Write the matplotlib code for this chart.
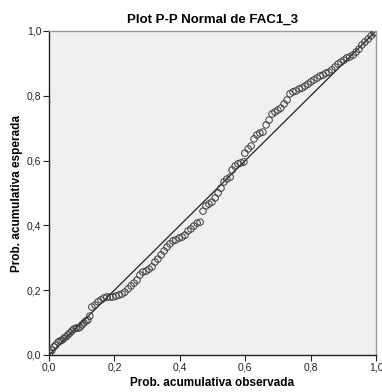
import numpy as np
import matplotlib
matplotlib.use('Agg')
import matplotlib.pyplot as plt
from matplotlib.ticker import FuncFormatter

plt.rcParams['font.family'] = ['Liberation Sans', 'DejaVu Sans']

# observed cumulative probability (x) and expected cumulative probability (y)
obs_prob = [0.003, 0.009, 0.015, 0.021, 0.028, 0.034, 0.040, 0.046, 0.052, 0.058,
            0.064, 0.070, 0.076, 0.083, 0.089, 0.095, 0.101, 0.107, 0.113, 0.119,
            0.125, 0.131, 0.141, 0.150, 0.159, 0.168, 0.177, 0.187, 0.196, 0.205,
            0.214, 0.223, 0.232, 0.242, 0.251, 0.260, 0.269, 0.278, 0.287, 0.297,
            0.306, 0.315, 0.324, 0.333, 0.343, 0.352, 0.361, 0.370, 0.379, 0.388,
            0.398, 0.407, 0.416, 0.425, 0.434, 0.443, 0.453, 0.462, 0.471, 0.480,
            0.489, 0.498, 0.508, 0.517, 0.526, 0.535, 0.544, 0.554, 0.560, 0.569,
            0.578, 0.587, 0.596, 0.599, 0.609, 0.618, 0.627, 0.636, 0.645, 0.654,
            0.664, 0.673, 0.682, 0.691, 0.700, 0.709, 0.719, 0.728, 0.737, 0.746,
            0.755, 0.765, 0.774, 0.783, 0.792, 0.801, 0.810, 0.820, 0.829, 0.838,
            0.847, 0.856, 0.865, 0.875, 0.884, 0.893, 0.902, 0.911, 0.920, 0.930,
            0.939, 0.948, 0.957, 0.966, 0.976, 0.985, 0.994, 0.997]
exp_prob = [0.006, 0.015, 0.025, 0.031, 0.040, 0.043, 0.046, 0.052, 0.056, 0.062,
            0.068, 0.074, 0.080, 0.083, 0.083, 0.086, 0.093, 0.099, 0.105, 0.108,
            0.120, 0.148, 0.154, 0.164, 0.170, 0.176, 0.179, 0.179, 0.179, 0.182,
            0.185, 0.188, 0.194, 0.204, 0.213, 0.222, 0.231, 0.247, 0.256, 0.259,
            0.265, 0.272, 0.287, 0.296, 0.309, 0.321, 0.333, 0.343, 0.352, 0.355,
            0.361, 0.364, 0.370, 0.383, 0.389, 0.398, 0.407, 0.410, 0.444, 0.460,
            0.466, 0.472, 0.485, 0.500, 0.515, 0.534, 0.543, 0.549, 0.571, 0.583,
            0.590, 0.593, 0.596, 0.623, 0.636, 0.645, 0.667, 0.679, 0.685, 0.688,
            0.710, 0.725, 0.744, 0.750, 0.756, 0.762, 0.775, 0.787, 0.806, 0.812,
            0.815, 0.821, 0.824, 0.830, 0.836, 0.843, 0.849, 0.855, 0.861, 0.864,
            0.870, 0.873, 0.880, 0.889, 0.898, 0.904, 0.910, 0.917, 0.920, 0.926,
            0.935, 0.944, 0.957, 0.966, 0.975, 0.985, 0.994, 0.997]
ticks = [0.0, 0.2, 0.4, 0.6, 0.8, 1.0]

fig = plt.figure(figsize=(3.82, 3.92), dpi=100)
ax = fig.add_axes([49 / 382, 37 / 392, 327 / 382, 324 / 392])
ax.set_facecolor('#F0F0F0')

# reference diagonal
ax.plot([0, 1], [0, 1], color='#222222', linewidth=0.9, zorder=2)
ax.scatter(obs_prob, exp_prob, s=22, facecolors='none', edgecolors='#3a3a3a',
           linewidths=0.7, zorder=3)

ax.set_xlim(0, 1)
ax.set_ylim(0, 1)
ax.set_xticks(ticks)
ax.set_yticks(ticks)
fmt = FuncFormatter(lambda v, p: ('%.1f' % v).replace('.', ','))
ax.xaxis.set_major_formatter(fmt)
ax.yaxis.set_major_formatter(fmt)
ax.tick_params(direction='out', length=4, width=0.8, labelsize=7.5, colors='#222222', pad=1.5)

for side in ['top', 'right']:
    ax.spines[side].set_color('#999999')
    ax.spines[side].set_linewidth(1.0)
for side in ['left', 'bottom']:
    ax.spines[side].set_color('#222222')
    ax.spines[side].set_linewidth(1.0)

ax.set_title('Plot P-P Normal de FAC1_3', fontsize=9.5, fontweight='bold', pad=6)
ax.set_xlabel('Prob. acumulativa observada', fontsize=8.5, fontweight='bold', labelpad=3)
ax.set_ylabel('Prob. acumulativa esperada', fontsize=8.5, fontweight='bold', labelpad=3)

fig.savefig('out.png', dpi=100)
